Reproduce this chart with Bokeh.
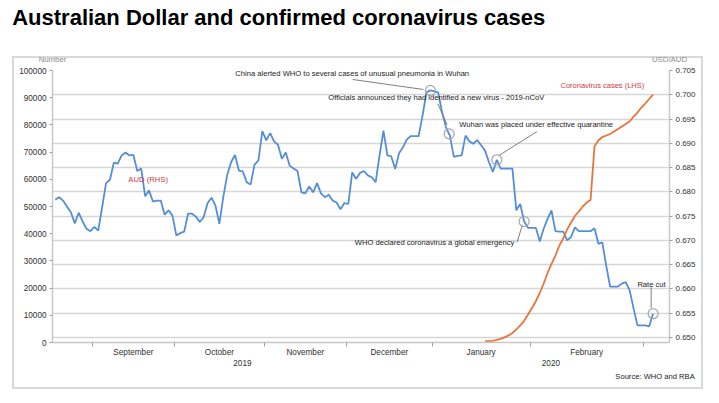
import numpy as np
from bokeh.plotting import figure
from bokeh.models import Range1d, LinearAxis, FixedTicker, NumeralTickFormatter, Label
from bokeh.embed import file_html
from bokeh.resources import INLINE

TITLE = "Australian Dollar and confirmed coronavirus cases"
SOURCE = "Source: WHO and RBA"

# observations per month on the chart's category axis (Aug 2019 .. Mar 2020)
MONTHS = ["August", "September", "October", "November", "December", "January", "February", "March"]
MONTH_OBS = [10, 21, 23, 21, 22, 25, 29, 3]
LABELLED_MONTHS = ["September", "October", "November", "December", "January", "February"]
YEARS = ["2019", "2020"]

# USD/AUD (right axis)
AUD = [
    0.6784, 0.6789, 0.6782, 0.6770, 0.6758, 0.6735, 0.6757, 0.6739, 0.6724, 0.6719,
    0.6728, 0.6720, 0.6768, 0.6818, 0.6825, 0.6860, 0.6858, 0.6875, 0.6881, 0.6875,
    0.6876, 0.6843, 0.6848, 0.6791, 0.6803, 0.6780, 0.6782, 0.6782, 0.6753, 0.6762,
    0.6751, 0.6710, 0.6715, 0.6718, 0.6755, 0.6755, 0.6749, 0.6738, 0.6748, 0.6777,
    0.6788, 0.6772, 0.6734, 0.6789, 0.6834, 0.6861, 0.6876, 0.6844, 0.6842, 0.6820,
    0.6815, 0.6856, 0.6865, 0.6925, 0.6906, 0.6921, 0.6904, 0.6897, 0.6868, 0.6881,
    0.6854, 0.6848, 0.6843, 0.6799, 0.6797, 0.6811, 0.6799, 0.6818, 0.6797, 0.6789,
    0.6794, 0.6782, 0.6778, 0.6764, 0.6777, 0.6775, 0.6840, 0.6827, 0.6839, 0.6843,
    0.6834, 0.6830, 0.6820, 0.6875, 0.6926, 0.6875, 0.6873, 0.6847, 0.6880, 0.6892,
    0.6908, 0.6915, 0.6915, 0.6915, 0.6957, 0.7005, 0.7009, 0.7007, 0.7005, 0.6964,
    0.6933, 0.6916, 0.6872, 0.6874, 0.6875, 0.6916, 0.6904, 0.6899, 0.6907, 0.6896,
    0.6885, 0.6861, 0.6841, 0.6866, 0.6848, 0.6848, 0.6848, 0.6848, 0.6762, 0.6775,
    0.6739, 0.6726, 0.6726, 0.6726, 0.6698, 0.6724, 0.6745, 0.6762, 0.6719, 0.6718,
    0.6718, 0.6700, 0.6707, 0.6727, 0.6719, 0.6719, 0.6719, 0.6719, 0.6725, 0.6693,
    0.6696, 0.6648, 0.6605, 0.6605, 0.6605, 0.6611, 0.6614, 0.6597, 0.6560, 0.6525,
    0.6525, 0.6525, 0.6523, 0.6549,
]

# confirmed coronavirus cases (left axis), last observations of the axis
CASES = [
    480, 480, 620, 960, 1360, 1880, 2610, 3530, 4780, 6320,
    7980, 10290, 12650, 15180, 18200, 21700, 25550, 28900, 31980, 35600,
    38230, 41540, 44110, 46500, 48160, 50000, 51460, 52380, 72050, 74250,
    75540, 76090, 76650, 77560, 78480, 79400, 80320, 81240, 83080, 84550,
    86390, 87860, 89510, 91160,
]

CASES_TICKS = [0, 10000, 20000, 30000, 40000, 50000, 60000, 70000, 80000, 90000, 100000]
AUD_TICKS = [0.650, 0.655, 0.660, 0.665, 0.670, 0.675, 0.680, 0.685, 0.690, 0.695, 0.700, 0.705]

EVENTS = [
    "China alerted WHO to several cases of unusual pneumonia in Wuhan",
    "Officials announced they had identified a new virus - 2019-nCoV",
    "Wuhan was placed under effective quarantine",
    "WHO declared coronavirus a global emergency",
    "Rate cut",
]
EVENT_OBS = [96, 100.8, 113, 120, 153]

FONT = "Liberation Sans"
BLUE = "#558ED5"
ORANGE = "#E8743B"
RED = "#D03A3A"
GRID = "#d6d6d6"
BOX = "#d9d9d9"

X_LO, X_HI = -0.7, 157.2
AUD_LO, AUD_HI = 0.64897, 0.705
CASES_LO, CASES_HI = 0, 100000
TITLE_X = 57.2
SOURCE_X = 153.5

n = len(AUD)
xi = np.arange(n)
xc = xi[n - len(CASES):]

cum = np.cumsum(MONTH_OBS)
bounds = cum[:-1] - 0.5
starts = np.concatenate([[-0.5], bounds])
ends = np.concatenate([bounds, [n - 0.5]])
centers = {MONTHS[i]: float((starts[i] + ends[i]) / 2) for i in range(len(MONTHS))}

# light grey box drawn behind the (transparent) canvas, below the title
box_css = {
    "background-image": ", ".join(["linear-gradient(%s, %s)" % (BOX, BOX)] * 4),
    "background-position": "12px 56px, 12px 387px, 12px 56px, 701px 56px",
    "background-size": "691px 2px, 691px 2px, 2px 333px, 2px 333px",
    "background-repeat": "no-repeat",
}

p = figure(width=712, height=395,
           x_range=Range1d(X_LO, X_HI), y_range=Range1d(AUD_LO, AUD_HI),
           y_axis_location="right", toolbar_location=None, output_backend="svg",
           min_border_left=52, min_border_right=43, min_border_top=70, min_border_bottom=53,
           outline_line_color=None, border_fill_color=None, background_fill_color="white",
           styles=box_css)
p.extra_y_ranges = {"cases": Range1d(CASES_LO, CASES_HI)}


def plain_axis(ax, size, color, standoff):
    ax.axis_line_color = None
    ax.major_tick_out = 0
    ax.major_tick_in = 0
    ax.minor_tick_out = 0
    ax.minor_tick_in = 0
    ax.major_label_standoff = standoff
    ax.major_label_text_font = FONT
    ax.major_label_text_font_size = size
    ax.major_label_text_color = color


# axis-name labels just above the frame
top_ticks = [X_LO, X_HI]
top = LinearAxis(ticker=FixedTicker(ticks=top_ticks),
                 major_label_overrides={X_LO: "Number", X_HI: "USD/AUD"})
plain_axis(top, "7.8px", "#8c8c8c", 7)
p.add_layout(top, "above")

# chart title row (outermost above the frame)
title_ax = LinearAxis(ticker=FixedTicker(ticks=[TITLE_X]),
                      major_label_overrides={TITLE_X: TITLE})
plain_axis(title_ax, "22px", "black", 22)
title_ax.major_label_text_font_style = "bold"
p.add_layout(title_ax, "above")

left = LinearAxis(y_range_name="cases", ticker=FixedTicker(ticks=CASES_TICKS),
                  formatter=NumeralTickFormatter(format="0"))
p.add_layout(left, "left")

right = p.right[0]
aud_ticker = FixedTicker(ticks=AUD_TICKS)
right.ticker = aud_ticker
right.formatter = NumeralTickFormatter(format="0.000")
p.ygrid.ticker = aud_ticker
p.ygrid.grid_line_color = GRID
p.ygrid.grid_line_width = 1.3
p.xgrid.visible = False

bottom = p.below[0]
lab_centers = [centers[m] for m in LABELLED_MONTHS]
bottom.ticker = FixedTicker(ticks=lab_centers, minor_ticks=[float(b) for b in bounds])
bottom.major_label_overrides = {c: m for c, m in zip(lab_centers, LABELLED_MONTHS)}
bottom.major_tick_out = 0
bottom.major_tick_in = 0
bottom.minor_tick_out = 4
bottom.minor_tick_in = 0
bottom.minor_tick_line_color = "#a0a0a0"
bottom.major_label_standoff = 1

# year row
jan_bound = float(bounds[MONTHS.index("January") - 1])
year_centers = [(X_LO + jan_bound) / 2, (jan_bound + X_HI) / 2]
years_ax = LinearAxis(ticker=FixedTicker(ticks=year_centers),
                      major_label_overrides={c: y for c, y in zip(year_centers, YEARS)})
plain_axis(years_ax, "8.2px", "#303030", 0)
p.add_layout(years_ax, "below")

# source row
src_ax = LinearAxis(ticker=FixedTicker(ticks=[SOURCE_X]),
                    major_label_overrides={SOURCE_X: SOURCE})
plain_axis(src_ax, "7.6px", "#1a1a1a", 3)
p.add_layout(src_ax, "below")

for ax in (left, right, bottom):
    ax.major_label_text_font = FONT
    ax.major_label_text_font_size = "8.2px"
    ax.major_label_text_color = "#303030"
    ax.axis_line_color = "#c8c8c8"
    ax.axis_line_width = 1.5
for ax in (left, right):
    ax.major_tick_out = 3
    ax.major_tick_in = 0
    ax.minor_tick_out = 0
    ax.minor_tick_in = 0
    ax.major_tick_line_color = "#a0a0a0"
    ax.major_label_standoff = 3
right.major_label_text_font_size = "8px"

# data lines
p.line(xi, AUD, color=BLUE, line_width=1.8)
p.line(xc, CASES, y_range_name="cases", color=ORANGE, line_width=1.8)

# event markers and callouts
ev_y = np.interp(EVENT_OBS, xi, AUD)
p.segment(x0=[76.1, 97.9, 123.3, 118.2, 152.5],
          y0=[0.70315, 0.69814, 0.69243, 0.66963, 0.66033],
          x1=[94.2, 100.3, 113.55, 119.5, 152.5],
          y1=[0.70109, 0.69381, 0.68749, 0.67307, 0.65604],
          line_color="#7f7f7f", line_width=1)
p.scatter(EVENT_OBS, ev_y, size=10, fill_color=None, line_color="#a6a6a6", line_width=1.2)

ev_pos = [(46.1, 0.70438, "left"), (69.9, 0.69954, "left"), (103.4, 0.69388, "left"),
          (117.5, 0.66957, "right"), (152.6, 0.66092, "center")]
for (x, y, al), txt in zip(ev_pos, EVENTS):
    p.add_layout(Label(x=x, y=y, text=txt, text_align=al, text_baseline="middle",
                       text_font=FONT, text_font_size="7.6px", text_color="#1a1a1a"))

p.add_layout(Label(x=18.7, y=0.68255, text="AUD (RHS)", text_baseline="middle",
                   text_font=FONT, text_font_size="7.7px", text_color=RED))
p.add_layout(Label(x=129.3, y=0.70191, text="Coronavirus cases (LHS)", text_baseline="middle",
                   text_font=FONT, text_font_size="7.5px", text_color=RED))

open("out.html", "w").write(file_html(p, INLINE))
